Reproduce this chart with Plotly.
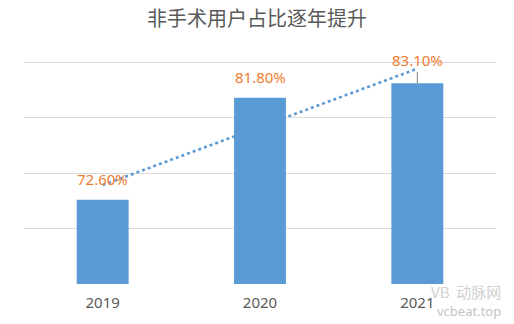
import numpy as np
import plotly.graph_objects as go

years = ["2019", "2020", "2021"]
values = [72.6, 81.8, 83.1]
labels = ["72.60%", "81.80%", "83.10%"]
title = "非手术用户占比逐年提升"

bar_color = "#5B9BD5"
label_color = "#ED7D31"
grey = "#595959"

# linear trendline through the data (as the spreadsheet trendline)
xi = np.arange(len(values))
slope, intercept = np.polyfit(xi, values, 1)
trend = [float(intercept), float(intercept + slope * (len(values) - 1))]

fig = go.Figure()
fig.add_trace(go.Bar(x=years, y=values, marker_color=bar_color,
                     marker_line_width=0, width=0.33))
fig.add_trace(go.Scatter(x=[years[0], years[-1]], y=trend, mode="lines",
                         line=dict(color=bar_color, width=2.6, dash="dot"),
                         hoverinfo="skip"))

for i, (v, lab) in enumerate(zip(values, labels)):
    if i == len(values) - 1:
        fig.add_annotation(x=i, y=v, text=lab, showarrow=True, arrowhead=0,
                           arrowwidth=1, arrowcolor="#7f7f7f", ax=0, ay=-23,
                           font=dict(color=label_color, size=15, family="Noto Sans"))
    else:
        fig.add_annotation(x=i, y=v, text=lab, showarrow=False, yshift=21,
                           font=dict(color=label_color, size=15, family="Noto Sans"))

# watermark
fig.add_annotation(xref="paper", yref="paper", x=1.015, y=-0.07, xanchor="right",
                   yanchor="top", text="vcbeat.top", showarrow=False,
                   font=dict(color="#c4c4c4", size=13, family="Noto Sans"))
fig.add_annotation(xref="paper", yref="paper", x=1.015, y=0.02, xanchor="right",
                   yanchor="top", text="VB  动脉网", showarrow=False,
                   font=dict(color="#d0d0d0", size=15, family="Noto Sans CJK SC"))

fig.update_layout(
    width=514, height=324,
    margin=dict(l=24, r=18, t=50, b=38),
    paper_bgcolor="white", plot_bgcolor="white",
    showlegend=False,
    title=dict(text=title, x=0.5, xanchor="center", y=0.94, yanchor="middle",
               font=dict(family="Noto Sans CJK SC", size=20, color=grey)),
    xaxis=dict(type="category", range=[-0.5, 2.5], showgrid=False, showline=False,
               ticks="", ticklabelstandoff=8,
               tickfont=dict(family="Noto Sans", size=15, color=grey)),
    yaxis=dict(range=[65, 86.1], tickvals=[65, 70, 75, 80, 85], showticklabels=False,
               showgrid=True, gridcolor="#d9d9d9", gridwidth=1, zeroline=False,
               showline=False),
)
fig.write_html("out.html")
